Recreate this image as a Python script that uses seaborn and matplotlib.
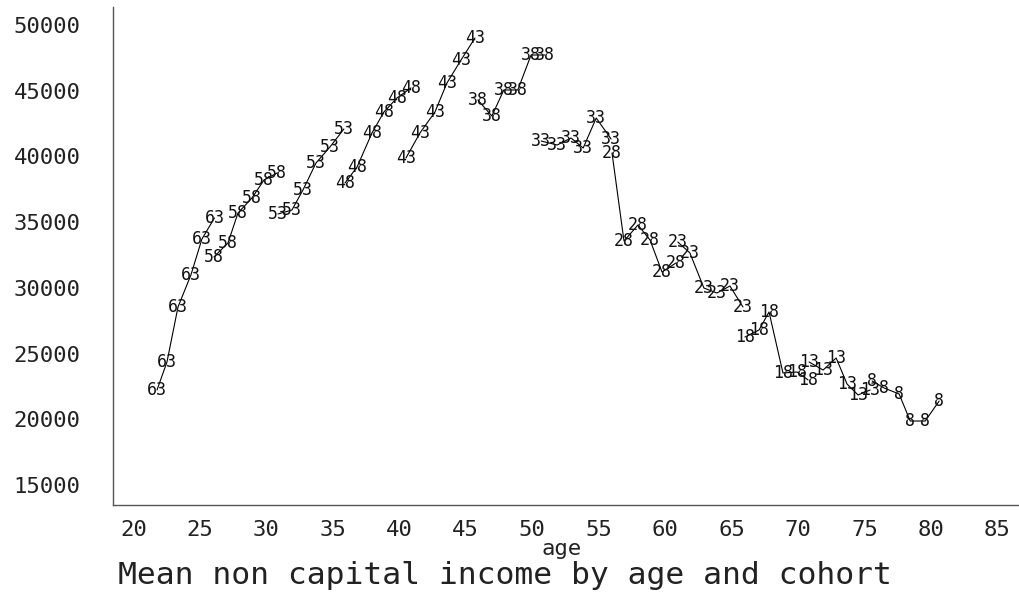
import matplotlib
matplotlib.use("Agg")
import matplotlib.pyplot as plt
import seaborn as sns
import pandas as pd

# ---- data ----
cohort = ([63] * 6 + [58] * 6 + [53] * 6 + [48] * 6 + [43] * 6 + [38] * 6 +
          [33] * 6 + [28] * 6 + [23] * 6 + [18] * 6 + [13] * 6 + [8] * 6)
age = [21.78, 22.53, 23.36, 24.33, 25.16, 26.10,
       26.06, 27.12, 27.87, 28.92, 29.83, 30.81,
       30.88, 31.93, 32.76, 33.74, 34.79, 35.84,
       35.92, 36.83, 37.95, 38.85, 39.83, 40.88,
       40.51, 41.56, 42.69, 43.59, 44.65, 45.70,
       45.92, 46.97, 47.87, 48.92, 49.92, 50.94,
       50.68, 51.88, 52.93, 53.84, 54.82, 55.94,
       56.01, 56.91, 57.96, 58.87, 59.77, 60.82,
       60.96, 61.87, 62.92, 63.90, 64.88, 65.86,
       66.01, 67.07, 67.82, 68.87, 69.93, 70.76,
       70.83, 71.89, 72.87, 73.69, 74.52, 75.42,
       75.58, 76.48, 77.61, 78.44, 79.57, 80.62]
income = [22224, 24354, 28540, 30975, 33715, 35313,
          32345, 33410, 35693, 36835, 38204, 38737,
          35617, 35921, 37443, 39498, 40716, 42086,
          37976, 39194, 41781, 43379, 44445, 45206,
          39879, 41781, 43379, 45586, 47336, 49011,
          44293, 43075, 45054, 45054, 47717, 47717,
          41172, 40868, 41400, 40640, 42923, 41324,
          40259, 33562, 34780, 33639, 31203, 31888,
          33486, 32649, 29986, 29605, 30138, 28540,
          26257, 26790, 28159, 23517, 23593, 22985,
          24354, 23745, 24659, 22680, 21843, 22224,
          22908, 22376, 21919, 19864, 19864, 21386]
x_ticks = list(range(20, 90, 5))
y_ticks = list(range(15000, 50001, 5000))
title = "Mean non capital income by age and cohort"
x_label = "age"

df = pd.DataFrame({"cohort": cohort, "age": age, "income": income})

sns.set_style("white")
plt.rcParams["font.family"] = ["DejaVu Sans Mono", "DejaVu Sans"]

fig = plt.figure(figsize=(10.19, 5.96), dpi=100)
W, H = 1019, 596
ax = fig.add_axes([113 / W, 1 - 505 / H, (1018 - 113) / W, (505 - 7) / H])

sns.lineplot(data=df, x="age", y="income", units="cohort", estimator=None,
             sort=False, color="black", linewidth=0.8, ax=ax, legend=False)

for a, v, c in zip(age, income, cohort):
    ax.text(a, v, str(c), ha="center", va="center", fontsize=12,
            color="#111111")

ax.set_xlim(18.47, 86.55)
ax.set_ylim(13472, 51370)
ax.set_xticks(x_ticks)
ax.set_yticks(y_ticks)
ax.set_xticklabels([str(t) for t in x_ticks])
ax.set_yticklabels([str(t) for t in y_ticks])
ax.tick_params(axis="both", direction="out", colors="#333333",
               labelcolor="#222222", labelsize=16, length=9.5, width=1)
ax.tick_params(axis="y", pad=14)
ax.tick_params(axis="x", pad=1.5)
for s in ["top", "right"]:
    ax.spines[s].set_visible(False)
for s in ["left", "bottom"]:
    ax.spines[s].set_color("#555555")
    ax.spines[s].set_linewidth(1)
ax.set_xlabel("")
ax.set_ylabel("")
fig.text(562 / W, 1 - 549 / H, x_label, ha="center", va="center",
         fontsize=16, color="#222222")
fig.text(118 / W, 1 - 576 / H, title, ha="left", va="center",
         fontsize=22.6, color="#222222")

fig.savefig("out.png", dpi=100)
